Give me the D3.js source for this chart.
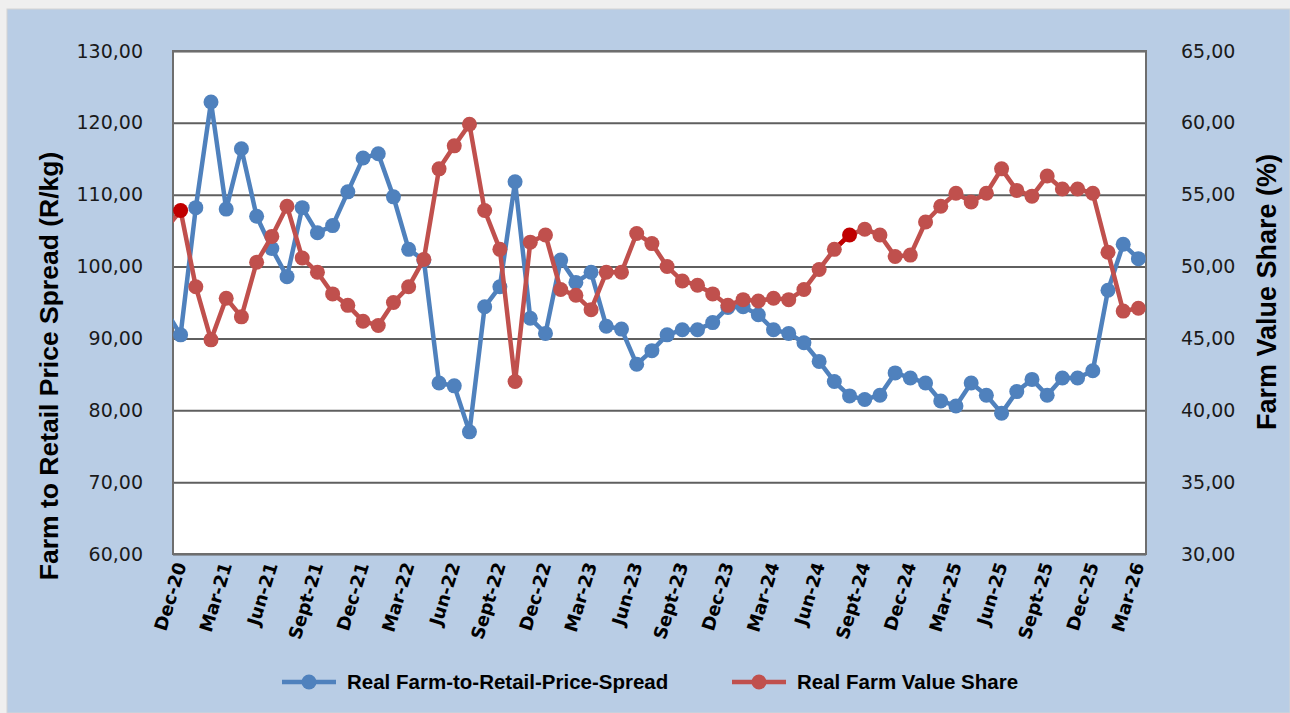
<!DOCTYPE html>
<html>
<head>
<meta charset="utf-8">
<script src="https://cdn.jsdelivr.net/npm/d3@7"></script>
<style>
  body { margin: 0; background: #efefef; }
  svg { display: block; }
</style>
</head>
<body>
<div id="container"></div>
<script>
// monthly data, Nov-20 .. Mar-26 (Nov-20 sits just left of the axis and is clipped)
const monthLabels = ["Nov-20",
  "Dec-20","Jan-21","Feb-21","Mar-21","Apr-21","May-21","Jun-21","Jul-21","Aug-21","Sept-21","Oct-21","Nov-21",
  "Dec-21","Jan-22","Feb-22","Mar-22","Apr-22","May-22","Jun-22","Jul-22","Aug-22","Sept-22","Oct-22","Nov-22",
  "Dec-22","Jan-23","Feb-23","Mar-23","Apr-23","May-23","Jun-23","Jul-23","Aug-23","Sept-23","Oct-23","Nov-23",
  "Dec-23","Jan-24","Feb-24","Mar-24","Apr-24","May-24","Jun-24","Jul-24","Aug-24","Sept-24","Oct-24","Nov-24",
  "Dec-24","Jan-25","Feb-25","Mar-25","Apr-25","May-25","Jun-25","Jul-25","Aug-25","Sept-25","Oct-25","Nov-25",
  "Dec-25","Jan-26","Feb-26","Mar-26"];

const priceSpread = [94.0,
  90.5, 108.2, 122.9, 108.0, 116.4, 107.0, 102.5, 98.6, 108.2, 104.7, 105.7, 110.4,
  115.1, 115.7, 109.7, 102.4, 100.9, 83.8, 83.4, 77.0, 94.4, 97.2, 111.8, 92.8,
  90.7, 100.9, 97.8, 99.2, 91.7, 91.3, 86.4, 88.3, 90.5, 91.2, 91.2, 92.2,
  94.3, 94.4, 93.3, 91.2, 90.7, 89.4, 86.8, 84.0, 82.0, 81.5, 82.1, 85.2,
  84.5, 83.8, 81.3, 80.6, 83.8, 82.1, 79.6, 82.6, 84.3, 82.1, 84.5, 84.5,
  85.5, 96.7, 103.1, 101.1];

const farmShare = [52.6,
  53.9, 48.6, 44.9, 47.8, 46.5, 50.3, 52.1, 54.2, 50.6, 49.6, 48.1, 47.3,
  46.2, 45.9, 47.5, 48.6, 50.5, 56.8, 58.4, 59.9, 53.9, 51.2, 42.0, 51.7,
  52.2, 48.4, 48.0, 47.0, 49.6, 49.6, 52.3, 51.6, 50.0, 49.0, 48.7, 48.1,
  47.3, 47.7, 47.6, 47.8, 47.7, 48.4, 49.8, 51.2, 52.2, 52.6, 52.2, 50.7,
  50.8, 53.1, 54.2, 55.1, 54.5, 55.1, 56.8, 55.3, 54.9, 56.3, 55.4, 55.4,
  55.1, 51.0, 46.9, 47.1];

// points drawn in dark red on the share line
const highlighted = ["Dec-20", "Aug-24"];

const tickLabels = ["Dec-20","Mar-21","Jun-21","Sept-21","Dec-21","Mar-22","Jun-22","Sept-22",
  "Dec-22","Mar-23","Jun-23","Sept-23","Dec-23","Mar-24","Jun-24","Sept-24","Dec-24","Mar-25",
  "Jun-25","Sept-25","Dec-25","Mar-26"];

const seriesNames = ["Real Farm-to-Retail-Price-Spread", "Real Farm Value Share"];

const width = 1290;
const height = 713;
const plot = {left: 173, right: 1146, top: 51, bottom: 554};
const blue = "#4F81BD";
const red = "#C0504D";
const darkRed = "#C00000";

const svg = d3.select("div#container").append("svg")
    .attr("width", width)
    .attr("height", height);

svg.append("rect")
    .attr("x", 7).attr("y", 9)
    .attr("width", width - 7).attr("height", height - 9)
    .attr("fill", "#B9CDE5")
    .attr("stroke", "#d4d4d4");

const comma = d3.formatLocale({decimal: ",", thousands: ".", grouping: [3], currency: ["R", ""]}).format(".2f");

// index 0 = Dec-20, -1 = Nov-20
const idx = function(label) { return monthLabels.indexOf(label) - 1; };
const xScale = d3.scaleLinear().domain([-0.5, 63.5]).range([plot.left, plot.right]);
const yLeft = d3.scaleLinear().domain([60, 130]).range([plot.bottom, plot.top]);
const yRight = d3.scaleLinear().domain([30, 65]).range([plot.bottom, plot.top]);

svg.append("rect")
    .attr("x", plot.left).attr("y", plot.top)
    .attr("width", plot.right - plot.left).attr("height", plot.bottom - plot.top)
    .attr("fill", "#fff");

svg.append("defs").append("clipPath").attr("id", "clip")
  .append("rect")
    .attr("x", plot.left).attr("y", plot.top)
    .attr("width", plot.right - plot.left).attr("height", plot.bottom - plot.top);

// gridlines
svg.append("g")
    .attr("transform", "translate(" + plot.left + ",0)")
    .call(d3.axisLeft(yLeft).ticks(7).tickSize(-(plot.right - plot.left)).tickFormat(""))
    .call(function(g) { g.select(".domain").remove(); })
    .selectAll("line")
    .attr("stroke", "#5f5f5f")
    .attr("stroke-width", 2);

svg.append("rect")
    .attr("x", plot.left).attr("y", plot.top)
    .attr("width", plot.right - plot.left).attr("height", plot.bottom - plot.top)
    .attr("fill", "none")
    .attr("stroke", "#6e6e6e")
    .attr("stroke-width", 2);

const leftAxis = svg.append("g")
    .attr("transform", "translate(" + plot.left + ",0)")
    .call(d3.axisLeft(yLeft).ticks(7).tickSize(0).tickPadding(30).tickFormat(comma));
leftAxis.select(".domain").remove();

const rightAxis = svg.append("g")
    .attr("transform", "translate(" + plot.right + ",0)")
    .call(d3.axisRight(yRight).ticks(7).tickSize(0).tickPadding(35).tickFormat(comma));
rightAxis.select(".domain").remove();

svg.selectAll(".tick text")
    .attr("font-family", "DejaVu Sans")
    .attr("font-size", 19)
    .attr("fill", "#1a1a1a");

svg.append("g").selectAll("text")
    .data(tickLabels).enter()
  .append("text")
    .attr("transform", function(d) { return "translate(" + xScale(idx(d)) + ",563) rotate(-73)"; })
    .attr("text-anchor", "end")
    .attr("dy", "0.35em")
    .attr("font-family", "DejaVu Sans")
    .attr("font-weight", "bold")
    .attr("font-size", 18)
    .text(function(d) { return d; });

svg.append("text")
    .attr("transform", "translate(58,366) rotate(-90)")
    .attr("text-anchor", "middle")
    .attr("font-family", "Liberation Sans")
    .attr("font-weight", "bold")
    .attr("font-size", 26.5)
    .text("Farm to Retail Price Spread (R/kg)");

svg.append("text")
    .attr("transform", "translate(1276,292) rotate(-90)")
    .attr("text-anchor", "middle")
    .attr("font-family", "Liberation Sans")
    .attr("font-weight", "bold")
    .attr("font-size", 27)
    .text("Farm Value Share (%)");

const spreadData = monthLabels.map(function(m, i) { return {month: m, value: priceSpread[i]}; });
const shareData = monthLabels.map(function(m, i) { return {month: m, value: farmShare[i]}; });

const lineSpread = d3.line()
    .x(function(d) { return xScale(idx(d.month)); })
    .y(function(d) { return yLeft(d.value); });

const lineShare = d3.line()
    .x(function(d) { return xScale(idx(d.month)); })
    .y(function(d) { return yRight(d.value); });

const lines = svg.append("g").attr("clip-path", "url(#clip)");

lines.append("path").attr("d", lineSpread(spreadData))
    .attr("fill", "none")
    .attr("stroke", blue)
    .attr("stroke-width", 4.5)
    .attr("stroke-linejoin", "round");

lines.selectAll(".dot-blue").data(spreadData).enter()
  .append("circle")
    .attr("cx", function(d) { return xScale(idx(d.month)); })
    .attr("cy", function(d) { return yLeft(d.value); })
    .attr("r", 7.5)
    .attr("fill", blue);

lines.append("path").attr("d", lineShare(shareData))
    .attr("fill", "none")
    .attr("stroke", red)
    .attr("stroke-width", 4.5)
    .attr("stroke-linejoin", "round");

// segment leading into a highlighted point takes its colour
lines.selectAll(".seg-hi").data(shareData.filter(function(d, i) { return i > 1 && highlighted.includes(d.month); })).enter()
  .append("path")
    .attr("d", function(d) {
        const i = monthLabels.indexOf(d.month);
        return lineShare([shareData[i - 1], d]);
    })
    .attr("fill", "none")
    .attr("stroke", darkRed)
    .attr("stroke-width", 4.5);

lines.selectAll(".dot-red").data(shareData).enter()
  .append("circle")
    .attr("cx", function(d) { return xScale(idx(d.month)); })
    .attr("cy", function(d) { return yRight(d.value); })
    .attr("r", 7.5)
    .attr("fill", function(d) { return highlighted.includes(d.month) ? darkRed : red; });

// legend
const legend = svg.append("g").attr("transform", "translate(0,682)");
const legendX = [282, 732];
const legendColor = [blue, red];

seriesNames.forEach(function(name, i) {
    legend.append("line")
        .attr("x1", legendX[i]).attr("x2", legendX[i] + 54)
        .attr("y1", 0).attr("y2", 0)
        .attr("stroke", legendColor[i])
        .attr("stroke-width", 4.5);
    legend.append("circle")
        .attr("cx", legendX[i] + 27).attr("cy", 0)
        .attr("r", 7.5)
        .attr("fill", legendColor[i]);
    legend.append("text")
        .attr("x", legendX[i] + 65)
        .attr("y", 0)
        .attr("dy", "0.35em")
        .attr("font-family", "Liberation Sans")
        .attr("font-weight", "bold")
        .attr("font-size", 20.5)
        .text(name);
});
</script>
</body>
</html>
